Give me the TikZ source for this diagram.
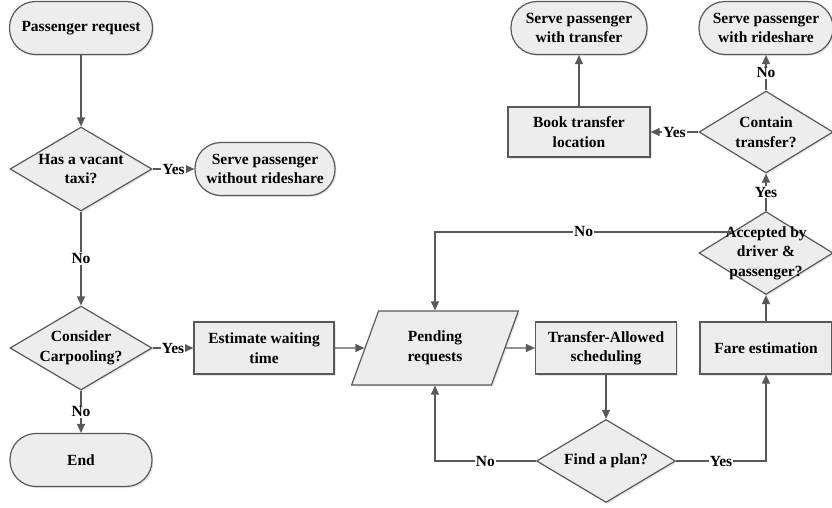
\documentclass[tikz,border=0pt]{standalone}
\usepackage{fontspec}
\setmainfont{Liberation Serif}
\usetikzlibrary{arrows.meta, positioning, calc, shapes.geometric, shadows}

\definecolor{linegray}{HTML}{595959}
\definecolor{boxgray}{HTML}{EDEDED}

\begin{document}
\begin{tikzpicture}[
  x=1pt, y=-1pt,
  font=\fontsize{15.5}{19.5}\selectfont\bfseries,
  base/.style = {draw=linegray, line width=1.2pt, fill=boxgray, align=center,
                 drop shadow={opacity=0.2, shadow xshift=1.5pt, shadow yshift=-1.5pt}},
  terminal/.style = {base, rounded corners=26pt, minimum width=143pt, minimum height=53pt},
  block/.style = {base, minimum width=140pt, minimum height=52pt},
  decision/.style = {base, diamond, minimum width=142pt, minimum height=84pt, inner sep=0pt},
  io/.style = {base, trapezium, trapezium left angle=70, trapezium right angle=110,
               minimum width=167pt, minimum height=52pt},
  arrow/.style = {draw=linegray, line width=1.2pt, -{Triangle[length=9pt, width=8pt]}},
  tag/.style = {fill=white, inner sep=1pt}
]
\useasboundingbox (0,0) rectangle (832,507);

% ======================================================
% Left column: request and first decisions
% ======================================================
\node[terminal] (request) at (81,28) {Passenger request};
\node[decision, label={[align=center]center:{Has a vacant\\taxi?}}] (vacant) at (81,169) {};
\node[terminal, minimum width=140pt] (norideshare) at (265,169) {Serve passenger\\without rideshare};
\node[decision, label={[align=center]center:{Consider\\Carpooling?}}] (carpool) at (81,348) {};
\node[terminal, minimum width=142pt] (finish) at (81,460) {End};

\draw[arrow] (request.south) -- (vacant.north);
\draw[arrow] (vacant.east) -- node[tag] {Yes} (norideshare.west);
\draw[arrow] (vacant.south) -- node[tag] {No} (carpool.north);
\draw[arrow] (carpool.south) -- node[tag] {No} (finish.north);

% ======================================================
% Middle row: waiting time, pending requests, scheduling
% ======================================================
\node[block] (waiting) at (264,348) {Estimate waiting\\time};
\node[io] (pending) at (435,348) {Pending\\requests};
\node[block, minimum width=141pt] (schedule) at (606,348) {Transfer-Allowed\\scheduling};
\node[decision, minimum width=139pt, minimum height=83pt,
      label={center:Find a plan?}] (plan) at (606,461) {};
\node[block, minimum width=132pt] (fare) at (766,348) {Fare estimation};

\draw[arrow] (carpool.east) -- node[tag] {Yes} (waiting.west);
\draw[arrow] (waiting.east) -- (pending.west);
\draw[arrow] (pending.east) -- (schedule.west);
\draw[arrow] (schedule.south) -- (plan.north);
\draw[arrow] (plan.west) -| node[tag, pos=0.25] {No} (pending.south);
\draw[arrow] (plan.east) -| node[tag, pos=0.25] {Yes} (fare.south);

% ======================================================
% Right column: acceptance and transfer
% ======================================================
\node[decision, minimum width=134pt, minimum height=83pt,
      label={[align=center]center:{Accepted by\\driver \&\\passenger?}}] (accepted) at (766,253) {};
\node[decision, minimum width=134pt, minimum height=82pt,
      label={[align=center]center:{Contain\\transfer?}}] (transfer) at (766,132) {};
\node[terminal, minimum width=134pt] (rideshare) at (766,28) {Serve passenger\\with rideshare};
\node[block, minimum width=142pt, minimum height=50pt] (book) at (579,132) {Book transfer\\location};
\node[terminal, minimum width=136pt] (withtransfer) at (579,28) {Serve passenger\\with transfer};

\draw[arrow] (fare.north) -- (accepted.south);
\draw[arrow] (accepted.north west) -| node[tag, pos=0.25] {No} (pending.north);
\draw[arrow] (accepted.north) -- node[tag] {Yes} (transfer.south);
\draw[arrow] (transfer.north) -- node[tag] {No} (rideshare.south);
\draw[arrow] (transfer.west) -- node[tag] {Yes} (book.east);
\draw[arrow] (book.north) -- (withtransfer.south);
\end{tikzpicture}
\end{document}
